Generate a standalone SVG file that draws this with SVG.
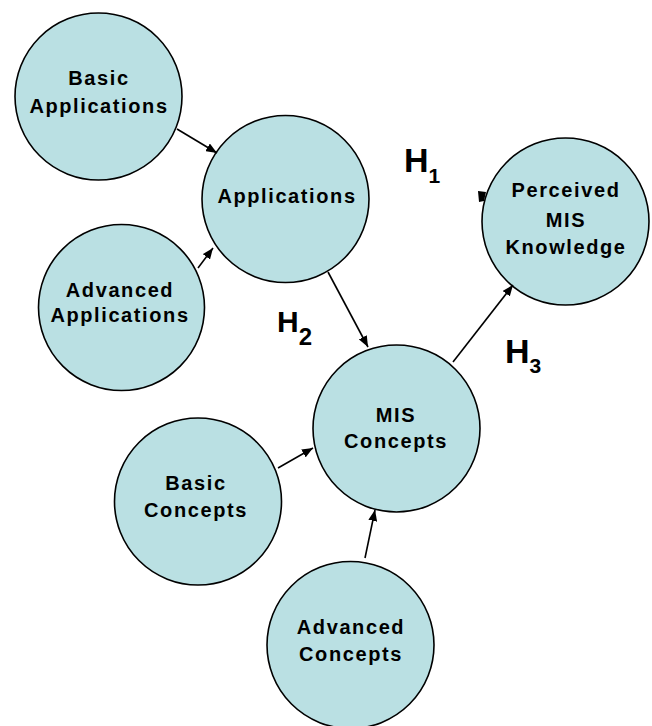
<svg xmlns="http://www.w3.org/2000/svg" width="652" height="726" viewBox="0 0 652 726">
<defs>
<marker id="ah" markerUnits="userSpaceOnUse" markerWidth="11" markerHeight="9" refX="11" refY="4.5" orient="auto">
<path d="M0,0 L11,4.5 L0,9 z" fill="#000"/>
</marker>
</defs>
<style>
.node circle{fill:#bae0e3;stroke:#000;stroke-width:1.6}
.node text{font-family:"Liberation Sans",Arial,sans-serif;font-size:20px;font-weight:bold;letter-spacing:1.6px;text-anchor:middle;fill:#000}
.conn line{stroke:#000;stroke-width:1.6;marker-end:url(#ah)}
.h{font-family:"Liberation Sans",Arial,sans-serif;font-weight:bold;fill:#000}
</style>
<rect width="652" height="726" fill="#fff"/>
<g id="basic-applications" class="node">
<circle cx="98.5" cy="96.5" r="83.5"/>
<text x="99" y="85">Basic</text>
<text x="99" y="113">Applications</text>
</g>
<g id="applications" class="node">
<circle cx="285.5" cy="199" r="83.5"/>
<text x="287" y="203">Applications</text>
</g>
<g id="advanced-applications" class="node">
<circle cx="121.5" cy="307.5" r="83"/>
<text x="120" y="297">Advanced</text>
<text x="120" y="322">Applications</text>
</g>
<g id="perceived-mis-knowledge" class="node">
<circle cx="565.5" cy="221.5" r="83.5"/>
<text x="566" y="197">Perceived</text>
<text x="566" y="227">MIS</text>
<text x="566" y="254">Knowledge</text>
</g>
<g id="mis-concepts" class="node">
<circle cx="396.5" cy="428.5" r="83.5"/>
<text x="396" y="422">MIS</text>
<text x="396" y="448">Concepts</text>
</g>
<g id="basic-concepts" class="node">
<circle cx="198" cy="501.5" r="83.5"/>
<text x="196" y="490">Basic</text>
<text x="196" y="517">Concepts</text>
</g>
<g id="advanced-concepts" class="node">
<circle cx="350.5" cy="645" r="83.5"/>
<text x="351" y="634">Advanced</text>
<text x="351" y="661">Concepts</text>
</g>
<g id="connectors" class="conn">
<line x1="177" y1="129" x2="217" y2="153"/>
<line x1="198" y1="268" x2="213" y2="248"/>
<line x1="328" y1="272" x2="368" y2="347"/>
<line x1="278" y1="468" x2="313" y2="448"/>
<line x1="365" y1="558" x2="375" y2="510"/>
<line x1="453" y1="362" x2="513" y2="285"/>
<polygon points="478,191 486,192 484,201 479,202" fill="#000"/>
</g>
<g id="labels">
<text class="h" x="404" y="172" font-size="34">H<tspan font-size="21" dy="11">1</tspan></text>
<text class="h" x="277" y="332" font-size="30">H<tspan font-size="24" dy="13">2</tspan></text>
<text class="h" x="505" y="363" font-size="34">H<tspan font-size="21" dy="10">3</tspan></text>
</g>
</svg>
